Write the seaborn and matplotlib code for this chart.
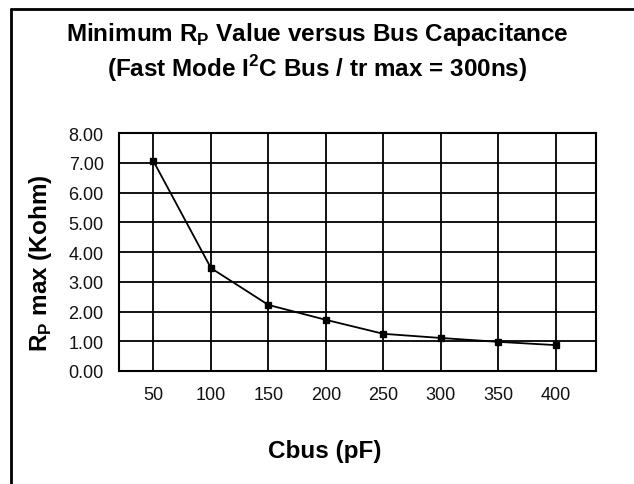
import matplotlib
matplotlib.use('Agg')
import matplotlib.pyplot as plt
import seaborn as sns
from matplotlib.lines import Line2D

# data
cbus = ['50', '100', '150', '200', '250', '300', '350', '400']
rp_max = [7.05, 3.46, 2.22, 1.72, 1.25, 1.11, 0.98, 0.87]
y_ticks = [0, 1, 2, 3, 4, 5, 6, 7, 8]

sns.set_style('white')
plt.rcParams['font.family'] = ['Liberation Sans', 'DejaVu Sans']
plt.rcParams['mathtext.fontset'] = 'custom'
plt.rcParams['mathtext.bf'] = 'Liberation Sans:bold'
plt.rcParams['mathtext.rm'] = 'Liberation Sans'
plt.rcParams['text.color'] = 'black'
plt.rcParams['axes.labelcolor'] = 'black'
plt.rcParams['xtick.color'] = 'black'
plt.rcParams['ytick.color'] = 'black'

fig = plt.figure(figsize=(6.34, 4.85), dpi=100)
ax = fig.add_axes([119 / 634, 1 - 372 / 485, 477 / 634, 238 / 485])

sns.pointplot(x=cbus, y=rp_max, color='black', markers='s', linestyles='-',
              markersize=4.5, linewidth=1.3, ax=ax)

ax.set_xlim(-0.6, 7.7)
ax.set_ylim(0, 8)
ax.set_yticks(y_ticks)
ax.set_yticklabels([f'{v:.2f}' for v in y_ticks])
ax.grid(True, color='black', linewidth=1.3)
ax.set_axisbelow(True)
for s in ax.spines.values():
    s.set_color('black')
    s.set_linewidth(1.5)

ax.tick_params(axis='both', direction='out', color='black', width=1.5,
               labelsize=13, labelcolor='#111111')
ax.tick_params(axis='y', length=7, pad=4)
ax.tick_params(axis='x', length=5, pad=6)

ax.set_xlabel('Cbus (pF)', fontsize=17.5, fontweight='bold')
ax.set_ylabel(r'R$_\mathbf{P}$ max (Kohm)', fontsize=17.5, fontweight='bold')
ax.xaxis.set_label_coords((325 - 119) / 477, -0.285)
ax.yaxis.set_label_coords((54 - 119) / 477, 0.455)

fig.text(0.5, 1 - 41 / 485, r'Minimum R$_\mathbf{P}$ Value versus Bus Capacitance',
         ha='center', va='baseline', fontsize=17.5, fontweight='bold')
fig.text(0.5, 1 - 77 / 485, r'(Fast Mode I$^\mathbf{2}$C Bus / tr max = 300ns)',
         ha='center', va='baseline', fontsize=17.5, fontweight='bold')

# frame lines left and top, as in the reference crop
fig.add_artist(Line2D([11 / 634, 11 / 634], [0, 1 - 10 / 485], color='black', linewidth=2,
                      transform=fig.transFigure))
fig.add_artist(Line2D([11 / 634, 1], [1 - 10 / 485, 1 - 10 / 485], color='black', linewidth=2,
                      transform=fig.transFigure))

fig.savefig('out.png', dpi=100)
